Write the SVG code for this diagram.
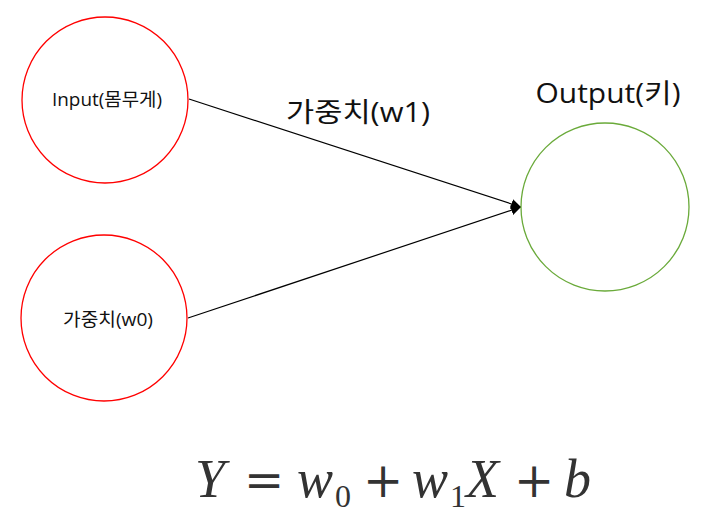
<svg xmlns="http://www.w3.org/2000/svg" width="715" height="522" viewBox="0 0 715 522">
<style>
.in{fill:#fff;stroke:#ff0000;stroke-width:1.3}
.out{fill:#fff;stroke:#6aaa3a;stroke-width:1.3}
.lbl{font-family:"Open Sans","Noto Sans","Noto Sans CJK KR",sans-serif;fill:#111}
.edge{stroke:#000;stroke-width:1.2;fill:none}
.math{font-family:"Liberation Serif","DejaVu Serif",serif;fill:#333;font-size:54px}
.it{font-style:italic}
.sub{font-size:32px}
.op{font-family:"DejaVu Serif",serif;font-size:48px}
</style>
<defs>
<marker id="arr" viewBox="0 0 10 10" refX="10" refY="5" markerWidth="10" markerHeight="10" markerUnits="userSpaceOnUse" orient="auto">
<path d="M0,0 L10,5 L0,10 z" fill="#000"/>
</marker>
</defs>
<rect width="715" height="522" fill="#fff"/>
<g id="connectors">
<line class="edge" x1="189" y1="99" x2="521" y2="207" marker-end="url(#arr)"/>
<line class="edge" x1="188" y1="318" x2="521" y2="207" marker-end="url(#arr)"/>
</g>
<g id="input">
<circle class="in" cx="105" cy="100" r="83"/>
<text class="lbl" x="107" y="106" font-size="18" text-anchor="middle" textLength="110" lengthAdjust="spacingAndGlyphs">Input(몸무게)</text>
</g>
<g id="w0">
<circle class="in" cx="104" cy="318" r="83"/>
<text class="lbl" x="108" y="326" font-size="18" text-anchor="middle" textLength="90" lengthAdjust="spacingAndGlyphs">가중치(w0)</text>
</g>
<g id="output">
<circle class="out" cx="605" cy="207" r="84"/>
<text class="lbl" x="608" y="103" font-size="27" text-anchor="middle" textLength="145" lengthAdjust="spacingAndGlyphs">Output(키)</text>
</g>
<g id="w1-label">
<text class="lbl" x="358" y="122" font-size="27" text-anchor="middle" textLength="144" lengthAdjust="spacingAndGlyphs">가중치(w1)</text>
</g>
<g id="formula">
<text class="math" y="497"><tspan class="it" x="195">Y</tspan><tspan class="op" x="244">=</tspan><tspan class="it" x="297">w</tspan><tspan class="sub" x="335" y="507">0</tspan><tspan class="op" x="363" y="497">+</tspan><tspan class="it" x="412">w</tspan><tspan class="sub" x="450" y="507">1</tspan><tspan class="it" x="466" y="497">X</tspan><tspan class="op" x="514">+</tspan><tspan class="it" x="564">b</tspan></text>
</g>
</svg>
